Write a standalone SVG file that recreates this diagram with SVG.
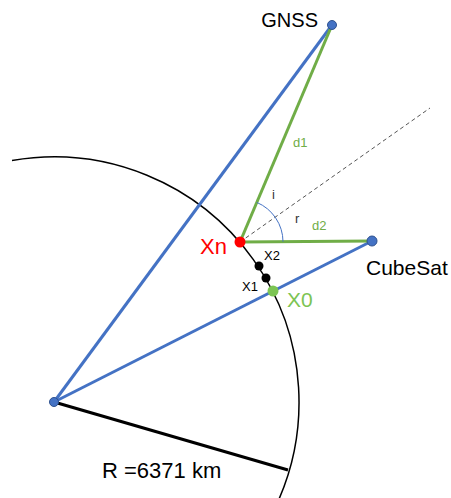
<svg xmlns="http://www.w3.org/2000/svg" width="451" height="498" viewBox="0 0 451 498">
<style>
.t{font-family:"Liberation Sans",Arial,sans-serif}
.blue{stroke:#4472C4;stroke-width:3;fill:none}
.green{stroke:#70AD47;stroke-width:3;fill:none}
.bdot{fill:#4472C4;stroke:#2F528F;stroke-width:1}
</style>
<rect width="451" height="498" fill="#fff"/>
<g id="earth">
<path d="M12,160.6 A245,245 0 0 1 268.7,520" fill="none" stroke="#000" stroke-width="1.5"/>
<line x1="54" y1="402" x2="288" y2="470" stroke="#000" stroke-width="3"/>
<text class="t" x="102" y="478" font-size="22" fill="#000">R =6371 km</text>
</g>
<g id="connectors">
<line class="blue" x1="54" y1="402" x2="332" y2="25"/>
<line class="blue" x1="54" y1="402" x2="372" y2="241"/>
<line class="green" x1="240" y1="242" x2="332" y2="25"/>
<line class="green" x1="240" y1="242" x2="372" y2="241"/>
<line x1="240" y1="242" x2="430" y2="108" stroke="#555" stroke-width="1" stroke-dasharray="4,3"/>
<path d="M256.8,202.4 A43,43 0 0 1 283,241.7" fill="none" stroke="#4472C4" stroke-width="1"/>
<text class="t" x="293" y="147" font-size="13" fill="#70AD47">d1</text>
<text class="t" x="312" y="230" font-size="13" fill="#70AD47">d2</text>
<text class="t" x="272" y="199" font-size="13" fill="#333">i</text>
<text class="t" x="295" y="223" font-size="13" fill="#333">r</text>
</g>
<g id="center"><circle class="bdot" cx="54" cy="402" r="4.5"/></g>
<g id="gnss">
<circle class="bdot" cx="332" cy="25" r="4.5"/>
<text class="t" x="318" y="27" font-size="20" text-anchor="end" fill="#000">GNSS</text>
</g>
<g id="cubesat">
<circle class="bdot" cx="372" cy="241" r="5"/>
<text class="t" x="366" y="275" font-size="21" fill="#000">CubeSat</text>
</g>
<g id="xn">
<circle cx="240" cy="242" r="5.5" fill="#FF0000"/>
<text class="t" x="200" y="254" font-size="22" fill="#FF0000">Xn</text>
</g>
<g id="x2">
<circle cx="259" cy="266" r="4.5" fill="#000"/>
<text class="t" x="264" y="260" font-size="13" fill="#000">X2</text>
</g>
<g id="x1">
<circle cx="266" cy="278" r="4.5" fill="#000"/>
<text class="t" x="242" y="291" font-size="13" fill="#000">X1</text>
</g>
<g id="x0">
<circle cx="273" cy="291" r="5.5" fill="#7CC453"/>
<text class="t" x="287" y="307" font-size="21" fill="#7CC453">X0</text>
</g>
</svg>
